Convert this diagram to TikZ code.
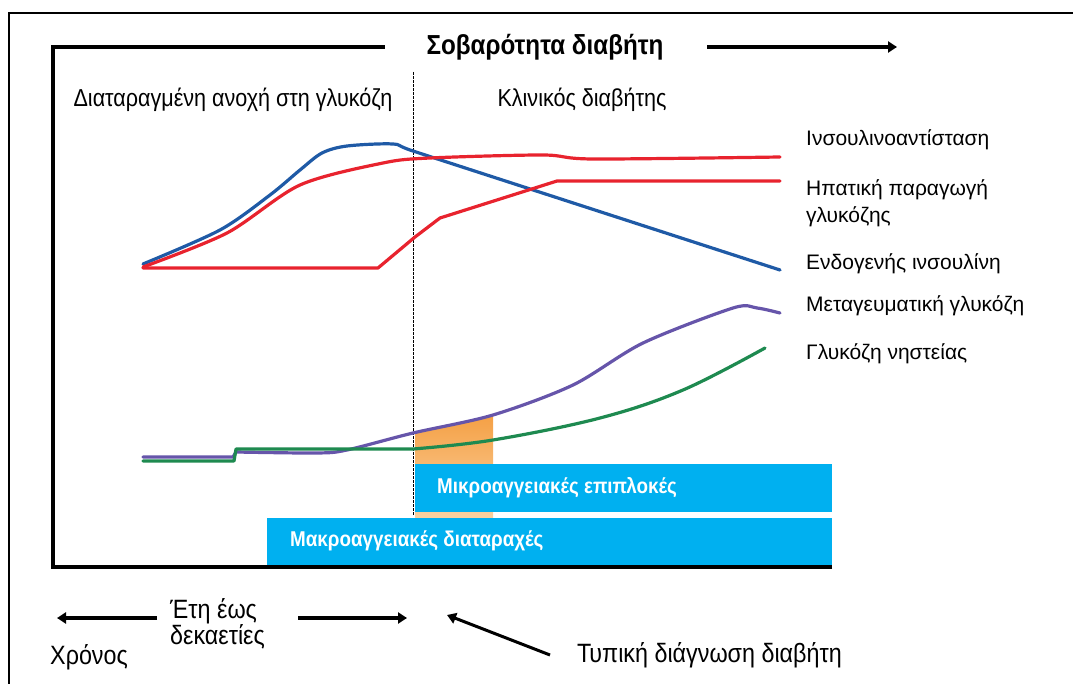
\documentclass[tikz,border=0pt]{standalone}
\usepackage{fontspec}
\setmainfont{Liberation Sans}
\newfontfamily\nf[FakeStretch=0.88]{Liberation Sans}
\usetikzlibrary{arrows.meta}
\definecolor{cblue}{HTML}{1F5AA6}
\definecolor{cred}{HTML}{E8232E}
\definecolor{cpurple}{HTML}{6655AA}
\definecolor{cgreen}{HTML}{1E8A50}
\definecolor{ccyan}{HTML}{00B0F0}
\definecolor{corange}{HTML}{F3922A}
\definecolor{corangel}{HTML}{FAD2A2}
\begin{document}
\begin{tikzpicture}[x=1pt,y=-1pt,
  curve/.style={line width=3.2pt,line join=round,line cap=round},
  axisline/.style={line width=4.5pt},
  lbl/.style={anchor=west,inner sep=0pt,font=\fontsize{21}{27}\selectfont,align=left},
  nlbl/.style={inner sep=0pt,font=\nf\fontsize{24.5}{26}\selectfont,align=left},
  blbl/.style={inner sep=0pt,anchor=west,font=\nf\fontsize{26.5}{26}\selectfont,align=left},
  boxlbl/.style={anchor=west,inner sep=0pt,text=white,font=\nf\bfseries\fontsize{21.4}{24}\selectfont},
  bigarrow/.style={line width=4pt,-{Triangle[length=9pt,width=11pt]}},
  cbox/.style={fill=ccyan,draw=none}]
\useasboundingbox (0,0) rectangle (1073,684);
% outer frame
\draw[line width=2pt] (9,684) -- (9,13) -- (1073,13);
% orange region under postprandial curve
\begin{scope}
\clip (415,0) rectangle (493,520);
\shade[top color=corange,bottom color=corangel]
  plot[smooth,tension=0.5] coordinates {(347,450) (413,433) (493,415) (573,385)} -- (573,520) -- (347,520) -- cycle;
\end{scope}
% boxes
\fill[cbox] (415,464) rectangle (832,512);
\fill[cbox] (267,518) rectangle (832,565);
\node[boxlbl] (micro) at (437,488) {Μικροαγγειακές επιπλοκές};
\node[boxlbl] (macro) at (290,541) {Μακροαγγειακές διαταραχές};
% dashed divider
\draw[line width=0.9pt,dash pattern=on 3pt off 1pt] (413,72) -- (413,515);
% axes
\draw[axisline] (832,567) -- (53,567) -- (53,47) -- (385,47);
\node[inner sep=0pt,font=\nf\bfseries\fontsize{27.5}{30}\selectfont] (title) at (545,47) {Σοβαρότητα διαβήτη};
\coordinate (ta) at (707,47);
\coordinate (tb) at (897,47);
\draw[bigarrow] (ta) -- (tb);
% phase labels
\node[nlbl] (igt) at (233,100) {Διαταραγμένη ανοχή στη γλυκόζη};
\node[nlbl] (clin) at (582,100) {Κλινικός διαβήτης};
% curves
\draw[curve,cblue] plot[smooth,tension=0.5] coordinates {(143,264) (220,230) (270,195) (300,170) (322,153) (347,146) (393,144) (413,151) (527,188) (780,270)};
\draw[curve,cred] plot[smooth,tension=0.5] coordinates {(143,267) (227,233) (300,185) (383,163) (430,158) (543,155) (593,159) (780,157)};
\draw[curve,cred] (143,268) -- (378,268) -- (415,237) -- (440,218) -- (557,181) -- (780,181);
\draw[curve,cpurple] plot[smooth,tension=0.5] coordinates {(143,457) (233,457)} -- (236,452) plot[smooth,tension=0.5] coordinates {(236,452) (317,453) (347,450) (413,433) (493,415) (573,385) (643,343) (733,308) (757,308) (780,313)};
\draw[curve,cgreen] (143,461) -- (234,461) -- (236,449) -- (413,449) plot[smooth,tension=0.6] coordinates {(413,449) (493,440) (600,418) (683,390) (765,348)};
% right labels
\node[lbl] (ir) at (806,140) {Ινσουλινοαντίσταση};
\node[lbl] (hgp) at (806,203.5) {Ηπατική παραγωγή\\γλυκόζης};
\node[lbl] (ei) at (806,264) {Ενδογενής ινσουλίνη};
\node[lbl] (ppg) at (806,306) {Μεταγευματική γλυκόζη};
\node[lbl] (fpg) at (806,354) {Γλυκόζη νηστείας};
% bottom
\coordinate (la) at (157,618);
\coordinate (lb) at (57,618);
\coordinate (ra) at (298,618);
\coordinate (rb) at (407,618);
\draw[bigarrow] (la) -- (lb);
\draw[bigarrow] (ra) -- (rb);
\node[blbl] (time) at (50,657) {Χρόνος};
\node[blbl] (years) at (170,624) {Έτη έως\\δεκαετίες};
\node[blbl] (diag) at (577,655) {Τυπική διάγνωση διαβήτη};
\coordinate (da) at (550,655);
\coordinate (db) at (447,615);
\draw[line width=3pt,-{Triangle[length=9pt,width=11pt]}] (da) -- (db);
\end{tikzpicture}
\end{document}
